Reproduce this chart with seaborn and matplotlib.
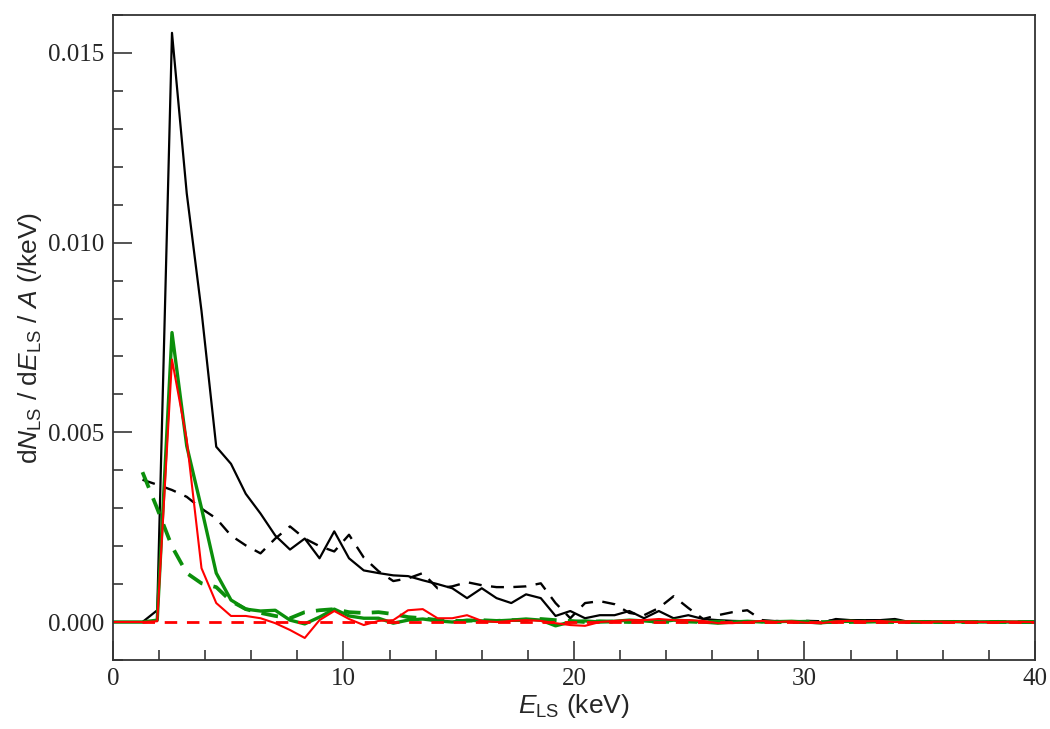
import numpy as np
import pandas as pd
import matplotlib
matplotlib.use("Agg")
import matplotlib.pyplot as plt
from matplotlib.ticker import MultipleLocator, FormatStrFormatter
import seaborn as sns

# bin positions in keV (0.64 keV bins)
energy = np.round(np.arange(64) * 0.64, 2)
energy_dash = energy[2:]

# spectra, in units of 1e-3 /keV
black_solid = [0, 0, 0.0, 0.31, 15.53, 11.3, 8.2, 4.62, 4.17, 3.38,
               2.86, 2.28, 1.91, 2.20, 1.68, 2.39, 1.68, 1.36, 1.29, 1.23,
               1.21, 1.10, 1.00, 0.89, 0.63, 0.89, 0.63, 0.50, 0.73, 0.63,
               0.16, 0.29, 0.10, 0.18, 0.18, 0.29, 0.10, 0.29, 0.10, 0.18,
               0.08, 0.05, 0.03, 0.02, 0.0, 0.03, 0.0, -0.02, -0.03, 0.08,
               0.05, 0.05, 0.05, 0.08, 0.0, 0.02, 0.0, 0.02, 0.0, 0.01,
               0.0, 0.0, 0.0, 0.0]
red_solid = [0, 0, 0, 0.02, 6.92, 4.8, 1.42, 0.50, 0.16, 0.16,
             0.10, -0.03, -0.21, -0.42, 0.05, 0.29, 0.08, -0.08, 0.03, 0.05,
             0.31, 0.34, 0.10, 0.10, 0.18, 0.03, 0.0, 0.03, 0.05, 0.03,
             -0.03, -0.08, -0.10, 0.0, 0.03, 0.05, 0.05, 0.08, 0.05, 0.05,
             0.03, -0.03, -0.03, 0.0, 0.03, 0.0, 0.02, -0.02, -0.03, 0.02,
             0.03, 0.02, 0.03, 0.0, 0.02, 0.0, 0.01, 0.0, 0.01, 0.0,
             0.0, 0.01, 0.0, 0.0]
green_solid = [0, 0, 0, 0.05, 7.63, 4.64, 3.0, 1.29, 0.58, 0.34,
               0.29, 0.31, 0.05, -0.05, 0.13, 0.34, 0.16, 0.10, 0.10, -0.03,
               0.05, 0.08, 0.03, 0.0, 0.05, 0.03, 0.03, 0.05, 0.08, 0.05,
               -0.10, 0.0, 0.03, 0.0, 0.02, 0.05, 0.03, 0.0, 0.05, 0.03,
               0.0, -0.03, 0.0, 0.02, 0.0, 0.01, 0.02, 0.0, -0.02, 0.01,
               0.02, 0.0, 0.01, 0.02, 0.0, 0.01, 0.0, 0.01, 0.0, 0.0,
               0.01, 0.0, 0.0, 0.0]
black_dashed = [3.75, 3.62, 3.48, 3.30, 2.99, 2.73, 2.28, 2.02,
                1.81, 2.20, 2.52, 2.20, 2.00, 1.86, 2.30, 1.70, 1.34, 1.08,
                1.15, 1.29, 0.89, 0.94, 1.05, 0.97, 0.92, 0.92, 0.94, 1.02,
                0.50, 0.10, 0.50, 0.55, 0.47, 0.24, 0.18, 0.37, 0.68, 0.37,
                0.08, 0.18, 0.26, 0.31, 0.05, 0.02, 0.0, 0.03, 0.02, 0.05,
                0.03, 0.05, 0.03, 0.02, 0.0, 0.02, 0.0, 0.0, 0.0, 0.0,
                0.0, 0.0, 0.0, 0.0]
green_dashed = [3.95, 2.99, 1.99, 1.29, 1.02, 0.92, 0.55, 0.34,
                0.24, 0.16, 0.10, 0.26, 0.31, 0.34, 0.26, 0.24, 0.26, 0.21,
                0.13, 0.10, 0.05, 0.03, 0.03, 0.05, 0.03, 0.05, 0.05, 0.08,
                0.05, 0.03, 0.0, 0.02, 0.01, 0.0, 0.02, 0.01, 0.0, 0.01,
                0.0, 0.01, 0.0, 0.0, 0.01, 0.0, 0.0, 0.01, 0.0, 0.0,
                0.0, 0.01, 0.0, 0.0, 0.0, 0.0, 0.0, 0.0, 0.0, 0.0,
                0.0, 0.0, 0.0, 0.0]
red_dashed = [0.0] * 62

GREEN = "#0b8f0b"

sns.set_theme(style="ticks")
plt.rcParams["font.family"] = ["Liberation Serif", "DejaVu Serif"]
plt.rcParams["mathtext.fontset"] = "custom"
plt.rcParams["mathtext.rm"] = "Liberation Sans"
plt.rcParams["mathtext.it"] = "Liberation Sans:italic"

fig = plt.figure(figsize=(10.5, 7.29), dpi=100)
ax = fig.add_axes([0.1076, 0.0947, 0.8781, 0.8847])

series = [
    (energy, black_solid, "black", 1.6, "-"),
    (energy_dash, black_dashed, "black", 1.7, (0, (5.5, 4.0))),
    (energy, green_solid, GREEN, 2.4, "-"),
    (energy_dash, green_dashed, GREEN, 2.7, (0, (4.5, 3.0))),
    (energy, red_solid, "red", 1.5, "-"),
    (energy_dash, red_dashed, "red", 2.0, (0, (4.5, 3.5))),
]
for x, y, col, lw, ls in series:
    df = pd.DataFrame({"E": x, "v": np.array(y) * 1e-3})
    sns.lineplot(data=df, x="E", y="v", ax=ax, color=col, linewidth=lw,
                 linestyle=ls, sort=False, estimator=None)

ax.set_xlim(0, 40)
ax.set_ylim(-0.001, 0.016)
ax.xaxis.set_major_locator(MultipleLocator(10))
ax.xaxis.set_minor_locator(MultipleLocator(2))
ax.yaxis.set_major_locator(MultipleLocator(0.005))
ax.yaxis.set_minor_locator(MultipleLocator(0.001))
ax.yaxis.set_major_formatter(FormatStrFormatter("%.3f"))
ax.tick_params(which="both", direction="in", top=False, right=False,
               labelsize=18, width=1.1, pad=6)
ax.tick_params(which="major", length=14)
ax.tick_params(which="minor", length=7)
for sp in ax.spines.values():
    sp.set_linewidth(1.3)
    sp.set_color("#333333")

lab_font = dict(family="Liberation Sans", size=19)
ax.set_xlabel(r"$\mathit{E}_{\rm LS}$ (keV)", fontdict=lab_font, labelpad=1)
ax.set_ylabel(r"d$\mathit{N}_{\rm LS}$ / d$\mathit{E}_{\rm LS}$ / $\mathit{A}$ (/keV)",
              fontdict=lab_font, labelpad=3)

fig.savefig("out.png", dpi=100)
